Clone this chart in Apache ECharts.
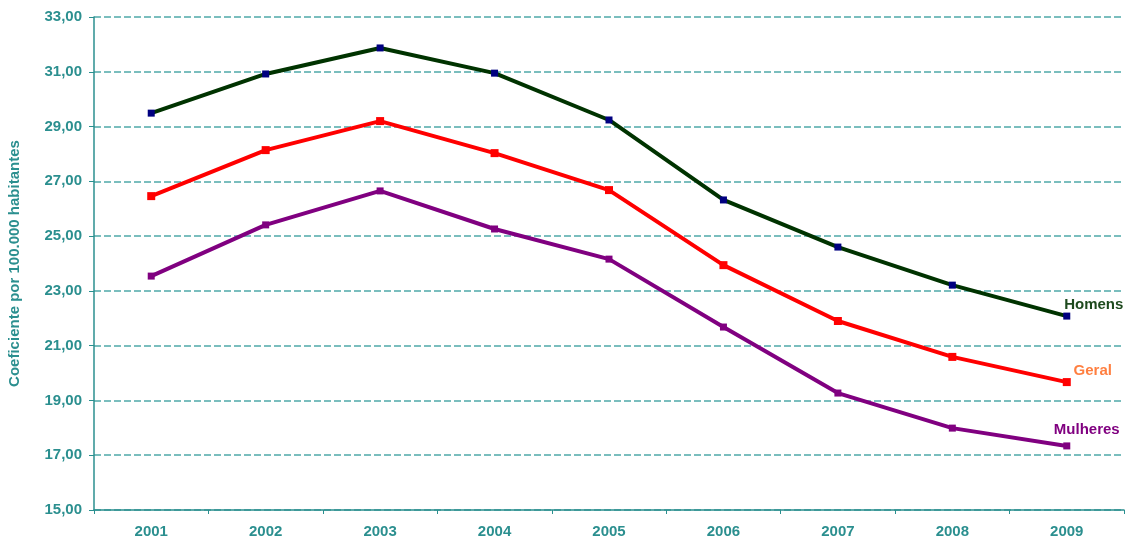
<!DOCTYPE html>
<html>
<head>
<meta charset="utf-8">
<script src="https://cdn.jsdelivr.net/npm/echarts@6/dist/echarts.min.js"></script>
<style>
  html, body { margin: 0; padding: 0; background: #fff; }
  #chart { width: 1129px; height: 540px; }
</style>
</head>
<body>
<div id="chart"></div>
<script>
var anos = ['2001', '2002', '2003', '2004', '2005', '2006', '2007', '2008', '2009'];
var homens = [29.49, 30.92, 31.87, 30.95, 29.24, 26.32, 24.60, 23.21, 22.08];
var geral = [26.46, 28.14, 29.20, 28.03, 26.68, 23.94, 21.90, 20.59, 19.67];
var mulheres = [23.54, 25.41, 26.65, 25.26, 24.16, 21.68, 19.27, 17.99, 17.34];

var teal = '#2b8f8f';
var fonte = 'Liberation Sans, Arial, sans-serif';

// last point carries the series name as a label
function comRotulo(valores, nome, cor, offset) {
    return valores.map(function (v, i) {
        if (i < valores.length - 1) return v;
        return {
            value: v,
            label: {
                show: true,
                position: 'top',
                formatter: nome,
                color: cor,
                fontWeight: 'bold',
                fontSize: 15,
                fontFamily: fonte,
                offset: offset
            }
        };
    });
}

var myChart = echarts.init(document.getElementById('chart'));
var option = {
    animation: false,
    grid: { left: 94, right: 5, top: 17, bottom: 30, outerBoundsMode: 'none', containLabel: false },
    xAxis: {
        type: 'category',
        data: anos,
        boundaryGap: true,
        axisLine: { lineStyle: { color: teal, width: 1.5 } },
        axisTick: { show: true, length: 4, lineStyle: { color: teal } },
        axisLabel: { color: teal, fontWeight: 'bold', fontSize: 15, fontFamily: fonte, margin: 14 }
    },
    yAxis: {
        type: 'value',
        min: 15,
        max: 33,
        interval: 2,
        name: 'Coeficiente por 100.000 habitantes',
        nameLocation: 'middle',
        nameGap: 72,
        nameTextStyle: { color: teal, fontWeight: 'bold', fontSize: 15, fontFamily: fonte },
        axisLine: { show: true, lineStyle: { color: teal, width: 1.5 } },
        axisTick: { show: true, length: 5, lineStyle: { color: teal } },
        axisLabel: {
            color: teal, fontWeight: 'bold', fontSize: 15, fontFamily: fonte, margin: 12,
            formatter: function (v) { return v.toFixed(2).replace('.', ','); }
        },
        splitLine: { lineStyle: { color: '#4fa9a9', type: [7, 3], width: 1.5 } }
    },
    series: [
        {
            name: 'Homens',
            type: 'line',
            data: comRotulo(homens, 'Homens', '#1e4a1e', [27, 5]),
            lineStyle: { color: '#003300', width: 4 },
            itemStyle: { color: '#000080' },
            symbol: 'rect',
            symbolSize: 7
        },
        {
            name: 'Geral',
            type: 'line',
            data: comRotulo(geral, 'Geral', '#ff7f40', [26, 5]),
            lineStyle: { color: '#ff0000', width: 4 },
            itemStyle: { color: '#ff0000' },
            symbol: 'rect',
            symbolSize: 8
        },
        {
            name: 'Mulheres',
            type: 'line',
            data: comRotulo(mulheres, 'Mulheres', '#800080', [20, 0]),
            lineStyle: { color: '#800080', width: 4 },
            itemStyle: { color: '#800080' },
            symbol: 'rect',
            symbolSize: 7
        }
    ]
};
myChart.setOption(option);
</script>
</body>
</html>
